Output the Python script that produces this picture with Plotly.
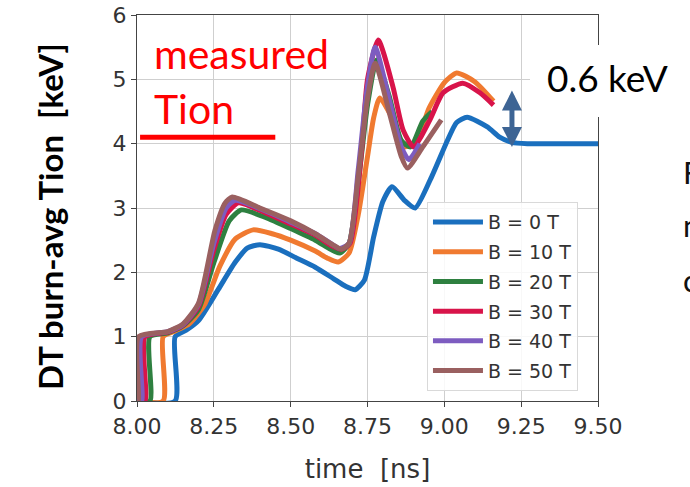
import plotly.graph_objects as go

# ---------------- data ----------------
labels = ["B = 0 T", "B = 10 T", "B = 20 T", "B = 30 T", "B = 40 T", "B = 50 T"]
colors = ["#1a6fbe", "#f07a30", "#2e8040", "#d8144a", "#7d5cc0", "#9a6060"]

t_b0 = [8.0, 8.124, 8.124, 8.16, 8.2, 8.264, 8.32, 8.36, 8.40, 8.46, 8.52, 8.58, 8.64, 8.68,
        8.71, 8.74, 8.77, 8.80, 8.83, 8.87, 8.905, 8.96, 9.01, 9.04, 9.074, 9.14, 9.18, 9.22, 9.27, 9.5]
T_b0 = [0, 0, 1.0, 1.1, 1.25, 1.73, 2.16, 2.38, 2.43, 2.36, 2.22, 2.08, 1.9, 1.78,
        1.73, 1.88, 2.55, 3.1, 3.33, 3.12, 3.0, 3.5, 4.05, 4.33, 4.41, 4.26, 4.1, 4.02, 4.0, 4.0]

t_b10 = [8.0, 8.085, 8.085, 8.12, 8.17, 8.22, 8.27, 8.32, 8.378, 8.44, 8.5, 8.58, 8.62, 8.655,
         8.69, 8.72, 8.75, 8.77, 8.79, 8.83, 8.87, 8.91, 8.95, 9.0, 9.04, 9.10, 9.16]
T_b10 = [0, 0, 1.0, 1.08, 1.2, 1.5, 2.1, 2.52, 2.66, 2.6, 2.5, 2.33, 2.22, 2.16,
         2.3, 2.9, 3.8, 4.4, 4.71, 4.4, 3.95, 4.05, 4.55, 4.95, 5.10, 4.96, 4.66]

t_b20 = [8.0, 8.042, 8.042, 8.1, 8.15, 8.2, 8.25, 8.3, 8.34, 8.42, 8.5, 8.58, 8.63, 8.66,
         8.69, 8.72, 8.75, 8.78, 8.82, 8.86, 8.89, 8.93, 8.96]
T_b20 = [0, 0, 1.0, 1.06, 1.17, 1.42, 2.15, 2.8, 2.97, 2.85, 2.68, 2.5, 2.36, 2.3,
         2.45, 3.4, 4.6, 5.3, 4.75, 4.05, 3.95, 4.35, 4.5]

t_b30 = [8.0, 8.026, 8.026, 8.1, 8.15, 8.2, 8.25, 8.29, 8.33, 8.42, 8.5, 8.58, 8.63, 8.665,
         8.693, 8.73, 8.75, 8.785, 8.833, 8.866, 8.90, 8.953, 8.996, 9.06, 9.116, 9.16]
T_b30 = [0, 0, 1.0, 1.07, 1.18, 1.47, 2.35, 2.9, 3.08, 2.92, 2.75, 2.58, 2.42, 2.36,
         2.45, 3.85, 5.0, 5.61, 4.88, 4.21, 3.95, 4.37, 4.79, 4.94, 4.79, 4.6]

t_b40 = [8.0, 8.015, 8.015, 8.1, 8.15, 8.2, 8.25, 8.29, 8.32, 8.42, 8.5, 8.58, 8.63, 8.66,
         8.69, 8.72, 8.75, 8.775, 8.82, 8.86, 8.885, 8.92]
T_b40 = [0, 0, 1.0, 1.08, 1.19, 1.5, 2.45, 3.0, 3.12, 2.95, 2.78, 2.6, 2.45, 2.37,
         2.45, 3.6, 4.9, 5.5, 4.7, 3.95, 3.75, 4.0]

t_b50 = [8.0, 8.005, 8.005, 8.1, 8.15, 8.2, 8.254, 8.287, 8.31, 8.4, 8.5, 8.58, 8.64, 8.665,
         8.69, 8.72, 8.75, 8.775, 8.82, 8.86, 8.88, 8.93, 8.99]
T_b50 = [0, 0, 1.0, 1.08, 1.2, 1.52, 2.66, 3.08, 3.17, 3.0, 2.8, 2.6, 2.42, 2.36,
         2.45, 3.5, 4.7, 5.25, 4.5, 3.8, 3.62, 3.95, 4.37]

xticks = [8.00, 8.25, 8.50, 8.75, 9.00, 9.25, 9.50]
xtick_text = ["8.00", "8.25", "8.50", "8.75", "9.00", "9.25", "9.50"]
yticks = [0, 1, 2, 3, 4, 5, 6]

measured_tion = 4.1          # red bar level
measured_span = [8.01, 8.45]
delta_label = "0.6 keV"
arrow_x = 9.22
arrow_span = [3.95, 4.85]

series_t = [t_b0, t_b10, t_b20, t_b30, t_b40, t_b50]
series_T = [T_b0, T_b10, T_b20, T_b30, T_b40, T_b50]

# ---------------- figure ----------------
fig = go.Figure()
for i, (lab, col, tx, ty) in enumerate(zip(labels, colors, series_t, series_T)):
    fig.add_trace(go.Scatter(
        x=tx, y=ty, mode="lines", name=lab, legendgroup=f"g{i}",
        line=dict(color=col, width=5, shape="spline", smoothing=0.6),
    ))

tick_font = dict(family="DejaVu Sans", size=22, color="#333333")
fig.update_layout(
    width=690, height=487, autosize=False,
    margin=dict(l=137, r=92, t=15, b=86, autoexpand=False),
    paper_bgcolor="white", plot_bgcolor="white",
    showlegend=True,
    legend=dict(
        x=0.629, y=0.515, xanchor="left", yanchor="top",
        bgcolor="rgba(255,255,255,0.85)", bordercolor="#d9d9d9", borderwidth=1,
        font=dict(family="DejaVu Sans", size=19, color="#333333"),
        traceorder="grouped", tracegroupgap=2, itemwidth=50,
    ),
    xaxis=dict(
        range=[8.0, 9.5], tickmode="array", tickvals=xticks, ticktext=xtick_text,
        automargin=False,
        showgrid=True, gridcolor="#cfcfcf", gridwidth=1, zeroline=False,
        showline=True, linecolor="#444444", linewidth=1.3, mirror=True,
        ticks="outside", ticklen=5, tickcolor="#444444", tickfont=tick_font,
        title=dict(text="time&nbsp;&nbsp;[ns]", font=dict(family="DejaVu Sans", size=26, color="#333333"),
                   standoff=22),
    ),
    yaxis=dict(
        range=[0, 6], tickmode="array", tickvals=yticks, automargin=False,
        showgrid=True, gridcolor="#cfcfcf", gridwidth=1, zeroline=False,
        showline=True, linecolor="#444444", linewidth=1.3, mirror=True,
        ticks="outside", ticklen=5, tickcolor="#444444", tickfont=tick_font,
    ),
)

# y-axis title (PowerPoint-style bold text)
fig.add_annotation(
    text="<b>DT burn-avg Tion&nbsp;&nbsp;[keV]</b>", textangle=-90,
    xref="paper", yref="paper", x=-0.1887, y=0.4767, xanchor="center", yanchor="middle",
    showarrow=False,
    font=dict(family="Lato", size=33, color="#000000"),
)

# measured Tion label and bar
fig.add_annotation(text="measured", xref="x", yref="y", x=8.05, y=5.405,
                   xanchor="left", yanchor="middle", showarrow=False,
                   font=dict(family="Lato", size=41, color="#ff0000"))
fig.add_annotation(text="Tion", xref="x", yref="y", x=8.05, y=4.545,
                   xanchor="left", yanchor="middle", showarrow=False,
                   font=dict(family="Lato", size=41, color="#ff0000"))
fig.add_shape(type="line", xref="x", yref="y",
              x0=measured_span[0], x1=measured_span[1], y0=measured_tion, y1=measured_tion,
              line=dict(color="#ff0000", width=5))

# white box behind "0.6 keV"
fig.add_shape(type="rect", xref="paper", yref="paper", x0=0.8525, x1=1.2, y0=0.7358, y1=0.9223,
              fillcolor="white", line=dict(width=0), layer="above")
fig.add_annotation(text=delta_label, xref="paper", yref="paper", x=1.0206, y=0.839,
                   xanchor="center", yanchor="middle", showarrow=False,
                   font=dict(family="Lato", size=37, color="#000000"))

# double arrow
fig.add_annotation(x=arrow_x, y=arrow_span[0], ax=arrow_x, ay=arrow_span[1],
                   xref="x", yref="y", axref="x", ayref="y", text="",
                   showarrow=True, arrowhead=2, startarrowhead=2, arrowside="end+start",
                   arrowwidth=5, arrowsize=0.8, startarrowsize=0.8, arrowcolor="#3d6494",
                   standoff=0, startstandoff=0)

# cut-off slide text on the right edge
for ch, py in [("F", 0.593), ("n", 0.456), ("c", 0.313)]:
    fig.add_annotation(text=ch, xref="paper", yref="paper", x=1.180, y=py,
                       xanchor="left", yanchor="middle", showarrow=False,
                       font=dict(family="Lato", size=31, color="#111111"))

fig.write_html("out.html")
